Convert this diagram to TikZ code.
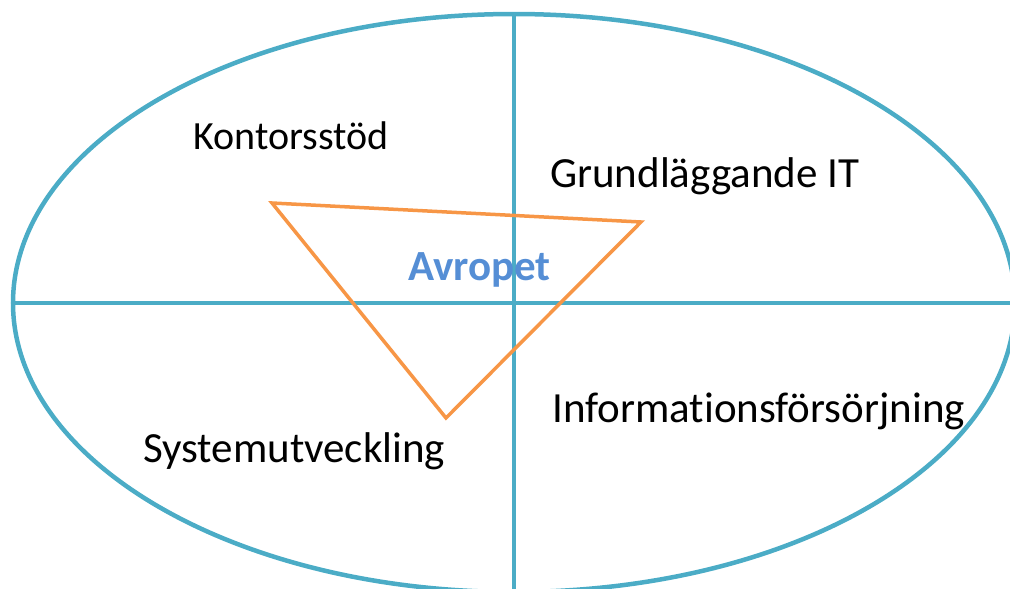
\documentclass[tikz,border=0pt]{standalone}
\usepackage{fontspec}
\setmainfont[Ligatures=CommonOff]{Carlito}
\definecolor{ovalblue}{RGB}{75,172,198}
\definecolor{triorange}{RGB}{247,150,70}
\definecolor{textblue}{RGB}{85,142,213}
\begin{document}
\begin{tikzpicture}[x=1pt, y=-1pt,
        area/.style={anchor=base west, inner sep=0pt, font=\fontsize{43}{45}\selectfont}]
    \useasboundingbox (0,0) rectangle (1010,589);
    \clip (0,0) rectangle (1010,589);
    \draw [line width=4.5pt, color=ovalblue] (514,303) ellipse [x radius=501, y radius=289];
    \draw [line width=4.5pt, color=ovalblue] (514,14) -- (514,589);
    \draw [line width=4.5pt, color=ovalblue] (13,303) -- (1010,303);

    \coordinate (tl) at (272,203);
    \coordinate (tr) at (641,222);
    \coordinate (tb) at (446,418);
    \draw [line width=3.5pt, color=triorange, line join=miter] (tl) -- (tr) -- (tb) -- cycle;

    \node [area, font=\fontsize{43}{45}\selectfont\bfseries, text=textblue] (avropet) at (408,280) {Avropet};
    \node [area, font=\fontsize{40}{42}\selectfont] (kontor) at (193,149) {Kontorsstöd};
    \node [area] (grund) at (550,187) {Grundläggande IT};
    \node [area] (system) at (143,462) {Systemutveckling};
    \node [area] (info) at (552,422) {Informationsförsörjning};
\end{tikzpicture}
\end{document}
